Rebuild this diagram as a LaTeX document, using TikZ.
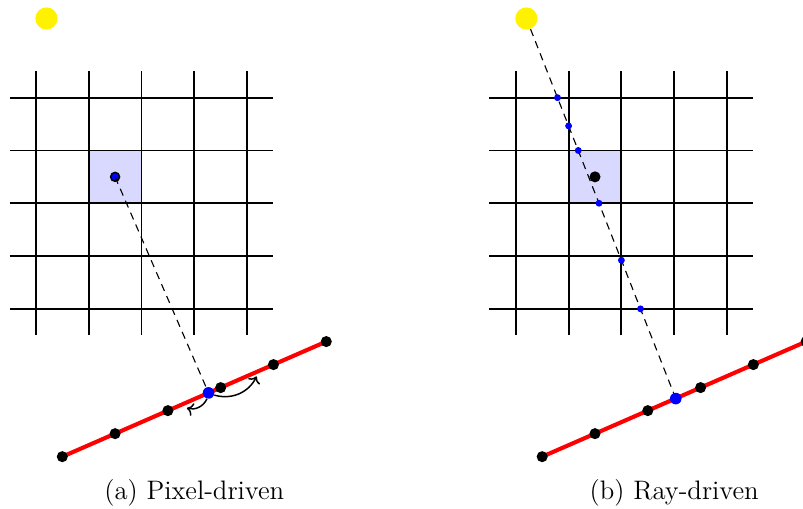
\documentclass[tikz,border=0pt]{standalone}
\usetikzlibrary{arrows.meta}

\begin{document}
\begin{tikzpicture}[
  subcap/.style={font=\Large},
  gridline/.style={line width=1pt},
  cell/.style={fill=blue!15},
  det/.style={red, line width=2.2pt},
  bin/.style={circle, fill=black, inner sep=0pt, minimum size=2.1mm},
  hit/.style={circle, fill=blue, inner sep=0pt, minimum size=2.2mm},
  cross/.style={circle, fill=blue, inner sep=0pt, minimum size=1.3mm},
  pix/.style={circle, draw, thick, fill=blue, inner sep=0pt, minimum size=1.7mm},
  src/.style={circle, fill=yellow, inner sep=0pt, minimum size=4.2mm},
  ray/.style={semithick, dash pattern=on 4pt off 3pt},
  wt/.style={->, thick}]
\useasboundingbox (-0.68,-3.79) rectangle (14.53,5.85);

\fill[cell] (1,2) rectangle (2,3);
\foreach \i in {0,...,4} {
  \draw[gridline] (-0.5,\i) -- (4.5,\i);
  \draw[gridline] (\i,-0.5) -- (\i,4.5);
}
\node[src] (srcA) at (0.2,5.5) {};
\draw[det] (0.5,-2.8) -- (5.5,-0.62);
\foreach \k in {1,...,6}
  \node[bin] (a\k) at ({\k-0.5},{-2.8+0.436*(\k-1)}) {};
\node[pix] (pixA) at (1.5,2.5) {};
\coordinate (hA) at (3.27,-1.592);
\draw[ray] (pixA.center) -- (hA);
\node[hit] (hitA) at (hA) {};
\coordinate (wl) at (2.86,-1.88);
\coordinate (wr) at (4.18,-1.28);
\draw[wt] (hitA) to[bend left=40] (wl);
\draw[wt] (hitA) to[bend right=40] (wr);
\node[subcap] (capA) at (3,-3.48) {(a) Pixel-driven};

\begin{scope}[xshift=9.09cm]
\fill[cell] (1,2) rectangle (2,3);
\foreach \i in {0,...,4} {
  \draw[gridline] (-0.5,\i) -- (4.5,\i);
  \draw[gridline] (\i,-0.5) -- (\i,4.5);
}
\node[src] (srcB) at (0.2,5.5) {};
\draw[det] (0.5,-2.8) -- (5.5,-0.62);
\foreach \k in {1,...,6}
  \node[bin] (b\k) at ({\k-0.5},{-2.8+0.436*(\k-1)}) {};
\coordinate (hB) at (3.03,-1.70);
\draw[ray] (srcB) -- (hB);
\node[bin] (pixB) at (1.5,2.5) {};
\foreach \p [count=\n] in {(0.79,4),(1,3.465),(1.183,3),(1.576,2),(2,0.921),(2.362,0)}
  \node[cross] (x\n) at \p {};
\node[hit] (hitB) at (hB) {};
\node[subcap] (capB) at (3,-3.48) {(b) Ray-driven};
\end{scope}
\end{tikzpicture}
\end{document}
